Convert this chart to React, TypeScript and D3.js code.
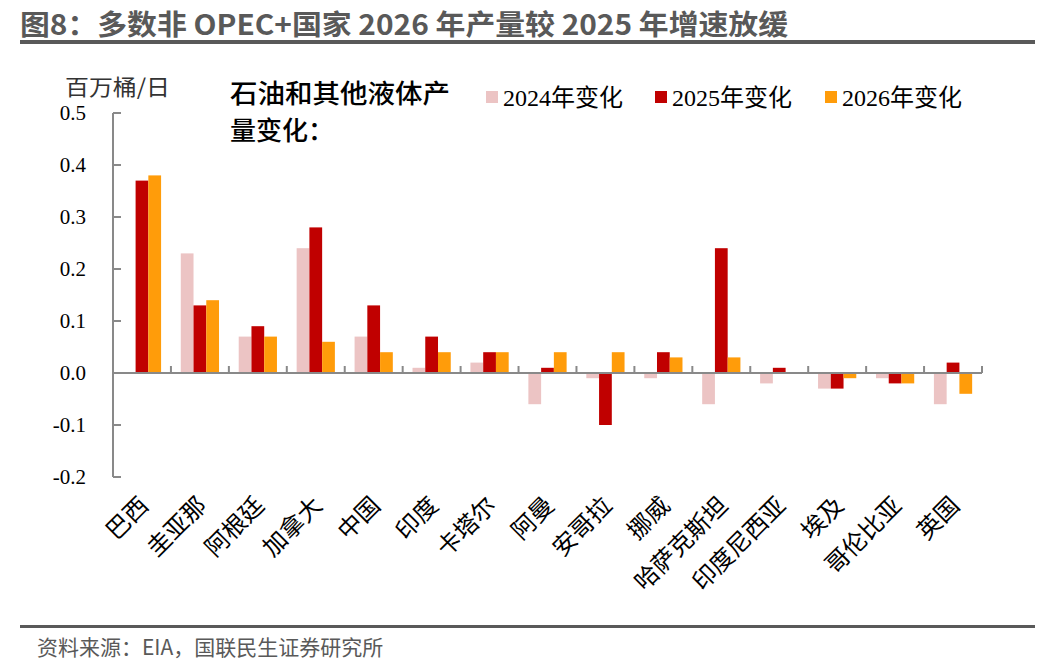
import * as d3 from "d3";
import { useEffect, useRef } from "react";

const countries = [
  "巴西", "圭亚那", "阿根廷", "加拿大", "中国", "印度", "卡塔尔", "阿曼",
  "安哥拉", "挪威", "哈萨克斯坦", "印度尼西亚", "埃及", "哥伦比亚", "英国",
];
const chg2024 = [0, 0.23, 0.07, 0.24, 0.07, 0.01, 0.02, -0.06, -0.01, -0.01, -0.06, -0.02, -0.03, -0.01, -0.06];
const chg2025 = [0.37, 0.13, 0.09, 0.28, 0.13, 0.07, 0.04, 0.01, -0.1, 0.04, 0.24, 0.01, -0.03, -0.02, 0.02];
const chg2026 = [0.38, 0.14, 0.07, 0.06, 0.04, 0.04, 0.04, 0.04, 0.04, 0.03, 0.03, 0, -0.01, -0.02, -0.04];
const seriesNames = ["2024年变化", "2025年变化", "2026年变化"];
const seriesColors = ["#ecc4c4", "#c00000", "#ff9c0a"];
const yTicks = [0.5, 0.4, 0.3, 0.2, 0.1, 0, -0.1, -0.2];

const W = 1045, H = 666;
const serif = "'Liberation Serif', 'Times New Roman', 'Noto Sans CJK SC', serif";
const cjk = "'Noto Sans CJK SC', sans-serif";

export default function App() {
  const ref = useRef<SVGSVGElement>(null);

  useEffect(() => {
    const svg = d3.select(ref.current!);
    svg.selectAll("*").remove();

    const x = d3.scaleBand().domain(countries).range([113, 982]).padding(0);
    const sub = d3
      .scaleBand()
      .domain(seriesNames)
      .range([x.step() * 0.17, x.step() * 0.83]);
    const y = d3.scaleLinear().domain([-0.2, 0.5]).range([477, 113]);

    // header
    svg.append("text")
      .attr("x", 20).attr("y", 35)
      .attr("font-family", cjk).attr("font-weight", 700)
      .attr("font-size", 28).attr("fill", "#595959")
      .attr("textLength", 768).attr("lengthAdjust", "spacingAndGlyphs")
      .text("图8：多数非 OPEC+国家 2026 年产量较 2025 年增速放缓");
    svg.append("rect").attr("x", 20).attr("y", 40).attr("width", 1015).attr("height", 4).attr("fill", "#595959");
    svg.append("rect").attr("x", 20).attr("y", 625).attr("width", 1015).attr("height", 3).attr("fill", "#595959");
    svg.append("text")
      .attr("x", 37).attr("y", 655)
      .attr("font-family", cjk).attr("font-size", 21).attr("fill", "#595959")
      .text("资料来源：EIA，国联民生证券研究所");

    // bars
    const series = [chg2024, chg2025, chg2026];
    series.forEach((vals, si) => {
      svg.append("g")
        .selectAll("rect")
        .data(vals)
        .join("rect")
        .attr("x", (_, i) => x(countries[i])! + sub(seriesNames[si])!)
        .attr("width", sub.bandwidth())
        .attr("y", (d) => y(Math.max(0, d)))
        .attr("height", (d) => Math.abs(y(d) - y(0)))
        .attr("fill", seriesColors[si]);
    });

    // y axis
    const axisColor = "#898989";
    svg.append("line")
      .attr("x1", 113).attr("x2", 113).attr("y1", y(0.5)).attr("y2", y(-0.2))
      .attr("stroke", axisColor).attr("stroke-width", 2);
    const yt = svg.append("g").selectAll("g").data(yTicks).join("g");
    yt.append("line")
      .attr("x1", 113).attr("x2", 121)
      .attr("y1", (d) => y(d)).attr("y2", (d) => y(d))
      .attr("stroke", axisColor).attr("stroke-width", 2);
    yt.append("text")
      .attr("x", 86).attr("y", (d) => y(d) + 7)
      .attr("text-anchor", "end")
      .attr("font-family", serif).attr("font-size", 21).attr("fill", "#000")
      .text((d) => d.toFixed(1));

    // x axis
    svg.append("line")
      .attr("x1", 113).attr("x2", 982).attr("y1", y(0)).attr("y2", y(0))
      .attr("stroke", axisColor).attr("stroke-width", 2);
    svg.append("g")
      .selectAll("line")
      .data(countries)
      .join("line")
      .attr("x1", (d) => x(d)! + x.step()).attr("x2", (d) => x(d)! + x.step())
      .attr("y1", y(0)).attr("y2", y(0) - 7)
      .attr("stroke", axisColor).attr("stroke-width", 2);
    svg.append("g")
      .selectAll("text")
      .data(countries)
      .join("text")
      .attr("transform", (d) => `translate(${x(d)! + x.step() / 2 + 8},${507}) rotate(-45)`)
      .attr("text-anchor", "end")
      .attr("font-family", cjk).attr("font-size", 24).attr("fill", "#000")
      .text((d) => d);

    // unit and annotation
    svg.append("text")
      .attr("x", 65).attr("y", 95)
      .attr("font-family", cjk).attr("font-size", 22).attr("fill", "#333")
      .attr("textLength", 105).attr("lengthAdjust", "spacingAndGlyphs")
      .text("百万桶/日");
    const note = svg.append("g")
      .attr("font-family", cjk).attr("font-size", 26).attr("font-weight", 500).attr("fill", "#000");
    note.append("text").attr("x", 230).attr("y", 103)
      .attr("textLength", 220).attr("lengthAdjust", "spacingAndGlyphs")
      .text("石油和其他液体产");
    note.append("text").attr("x", 230).attr("y", 140).text("量变化：");

    // legend
    const lx = [486, 655, 825];
    const lg = svg.append("g").selectAll("g").data(seriesNames).join("g")
      .attr("transform", (_, i) => `translate(${lx[i]},0)`);
    lg.append("rect").attr("x", 0).attr("y", 91).attr("width", 12).attr("height", 12)
      .attr("fill", (_, i) => seriesColors[i]);
    lg.append("text").attr("x", 17).attr("y", 106)
      .attr("font-family", serif).attr("font-size", 24).attr("fill", "#000")
      .text((d) => d);
  }, []);

  return (
    <div style={{ position: "absolute", left: 0, top: 0 }}>
      <svg ref={ref} width={W} height={H} style={{ display: "block", background: "#fff" }} />
    </div>
  );
}
